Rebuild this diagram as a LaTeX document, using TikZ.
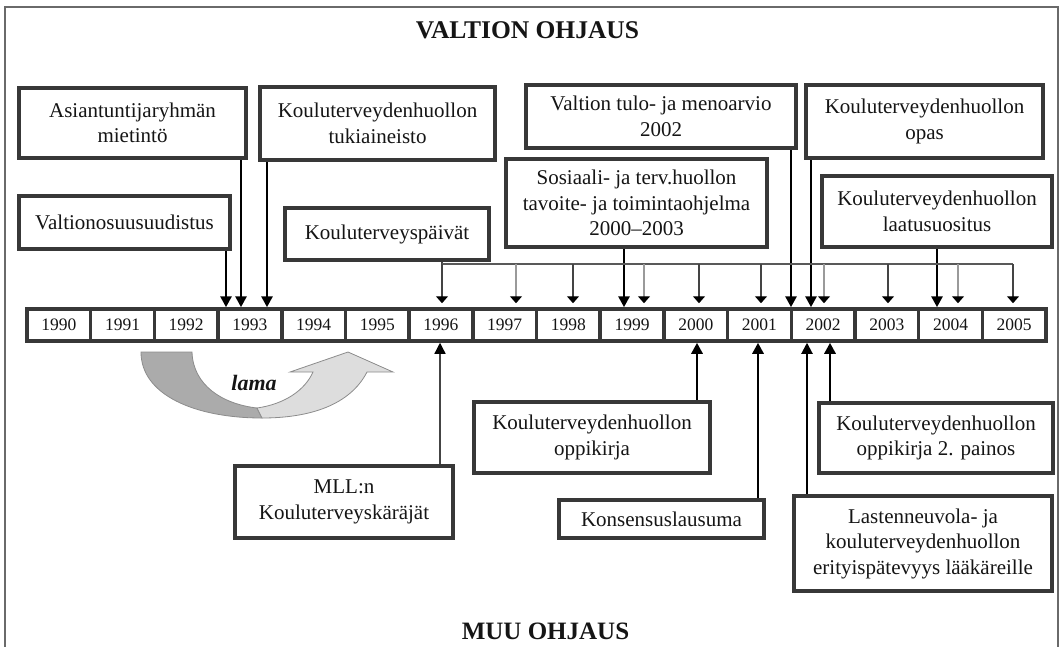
\documentclass[tikz,border=0pt]{standalone}
\usepackage{fontspec}
\setmainfont{Liberation Serif}
\usetikzlibrary{arrows.meta}
\definecolor{bordergray}{HTML}{383838}
\definecolor{framegray}{HTML}{6A6A6A}
\definecolor{lamadark}{HTML}{ABABAB}
\definecolor{lamalight}{HTML}{DDDDDD}
\definecolor{lamaedge}{HTML}{8C8C8C}
\definecolor{thinA}{HTML}{444444}
\definecolor{thinB}{HTML}{9A9A9A}
\definecolor{inkc}{HTML}{151515}
\begin{document}
\begin{tikzpicture}[x=1pt,y=-1pt,
  box/.style={draw=bordergray, line width=4pt, fill=white, inner sep=2pt, align=center,
    text=inkc, font=\fontsize{21}{25.5}\selectfont},
  cell/.style={draw=bordergray, line width=3.5pt, fill=white, minimum width=63.69pt,
    minimum height=32pt, inner sep=0pt, text=inkc, font=\fontsize{17.5}{20}\selectfont},
  thk/.style={line width=2.8pt, -{Triangle[width=11pt,length=11pt]}},
  med/.style={line width=2pt, -{Triangle[width=11pt,length=11pt]}},
  lite/.style={line width=1.3pt, draw=thinA, -{Triangle[width=11pt,length=11pt,color=black]}},
  thnA/.style={line width=1.2pt, draw=thinA, -{Triangle[width=12pt,length=7pt,color=black]}, shorten >=4pt},
  thnB/.style={line width=1.2pt, draw=thinB, -{Triangle[width=12pt,length=7pt,color=black]}, shorten >=4pt},
  title/.style={font=\fontsize{25.5}{30}\selectfont\bfseries, text=inkc, anchor=base}
]
\fill[white] (0,0) rectangle (1064,646);
\useasboundingbox (0,0) rectangle (1064,646);
\draw[framegray, line width=1.5pt] (5,7) rectangle (1058,660);

% titles
\node[title] (ttop) at (527.5,38) {VALTION OHJAUS};
\node[title, font=\fontsize{25}{30}\selectfont\bfseries] (tbot) at (545.5,639) {MUU OHJAUS};

% timeline
\foreach \yr [count=\i from 0] in {1990,1991,1992,1993,1994,1995,1996,1997,1998,1999,2000,2001,2002,2003,2004,2005}
  \node[cell] (y\yr) at ({27+63.69*\i+31.845},325) {\yr};

% upper boxes
\node[box, minimum width=227pt, minimum height=70pt] (asiant) at (132.5,123) {Asiantuntijaryhmän\\mietintö};
\node[box, minimum width=235pt, minimum height=73pt] (tuki) at (377.5,123.5) {Kouluterveydenhuollon\\tukiaineisto};
\node[box, minimum width=211pt, minimum height=53pt] (valtionos) at (124.5,222.5) {Valtionosuusuudistus};
\node[box, minimum width=204pt, minimum height=52pt] (kpaivat) at (387,234) {Kouluterveyspäivät};
\node[box, minimum width=270pt, minimum height=63pt] (tulo) at (661,116.5) {Valtion tulo- ja menoarvio\\2002};
\node[box, minimum width=237pt, minimum height=73pt] (opas) at (924.5,121.5) {Kouluterveydenhuollon\\opas};
\node[box, minimum width=261pt, minimum height=88pt] (sos) at (636.5,203) {Sosiaali- ja terv.huollon\\tavoite- ja toimintaohjelma\\2000–2003};
\node[box, minimum width=230pt, minimum height=71pt] (laatu) at (937,211.5) {Kouluterveydenhuollon\\laatusuositus};

% lower boxes
\node[box, minimum width=218pt, minimum height=72pt] (mll) at (344,502) {MLL:n\\Kouluterveyskäräjät};
\node[box, minimum width=236pt, minimum height=71pt] (oppi) at (592,437.5) {Kouluterveydenhuollon\\oppikirja};
\node[box, minimum width=205pt, minimum height=38pt] (kons) at (661.5,519) {Konsensuslausuma};
\node[box, minimum width=258pt, minimum height=95pt] (last) at (923,543.5) {Lastenneuvola- ja\\kouluterveydenhuollon\\erityispätevyys lääkäreille};
\node[box, minimum width=234pt, minimum height=70pt] (oppi2) at (936,438) {Kouluterveydenhuollon\\oppikirja 2. painos};

% thick arrows from above
\draw[thk] (valtionos.south -| 226,0) -- (y1993.north -| 226,0);
\draw[thk] (asiant.south -| 241,0) -- (y1993.north -| 241,0);
\draw[thk] (tuki.south -| 267,0) -- (y1993.north -| 267,0);
\draw[thk] (sos.south -| 624,0) -- (y1999.north -| 624,0);
\draw[thk] (tulo.south -| 791,0) -- (y2002.north -| 791,0);
\draw[thk] (opas.south -| 811,0) -- (y2002.north -| 811,0);
\draw[thk] (laatu.south -| 937,0) -- (y2004.north -| 937,0);

% annual Kouluterveyspäivät arrows
\coordinate (bus) at (442,264);
\coordinate (busend) at (1013,264);
\draw[thinA, line width=1.2pt] (kpaivat.south -| bus) -- (bus);
\draw[gray!70!black, line width=1.2pt] (bus) -- (busend);
\draw[thnA] (bus) -- (y1996.north -| bus);
\draw[thnB] (bus -| 516,0) -- (y1997.north -| 516,0);
\draw[thnA] (bus -| 573,0) -- (y1998.north -| 573,0);
\draw[thnB] (bus -| 644,0) -- (y1999.north -| 644,0);
\draw[thnA] (bus -| 699,0) -- (y2000.north -| 699,0);
\draw[thnA] (bus -| 761,0) -- (y2001.north -| 761,0);
\draw[thnB] (bus -| 824,0) -- (y2002.north -| 824,0);
\draw[thnA] (bus -| 888,0) -- (y2003.north -| 888,0);
\draw[thnB] (bus -| 958,0) -- (y2004.north -| 958,0);
\draw[thnA] (busend) -- (y2005.north -| busend);

% arrows from below
\draw[lite] (mll.north -| 440,0) -- (y1996.south -| 440,0);
\draw[thk] (oppi.north -| 697,0) -- (y2000.south -| 697,0);
\draw[thk] (kons.north -| 758,0) -- (y2001.south -| 758,0);
\draw[med] (last.north -| 807,0) -- (y2002.south -| 807,0);
\draw[thk] (oppi2.north -| 830,0) -- (y2002.south -| 830,0);

% lama arrow
\draw[lamaedge, line width=0.8pt, fill=lamadark]
  (141,352) -- (192,352) .. controls (193,385) and (222,404) .. (257,408)
  -- (262,418) .. controls (195,418) and (141,395) .. (141,352) -- cycle;
\draw[lamaedge, line width=0.8pt, fill=lamalight]
  (257,408) .. controls (285,404) and (305,390) .. (313,372)
  -- (290,372) -- (348,352) -- (393,372) -- (367,372)
  .. controls (350,405) and (310,418) .. (262,418) -- cycle;
\node[font=\fontsize{22}{26}\selectfont\bfseries\itshape, text=inkc] (lama) at (254,383) {lama};
\end{tikzpicture}
\end{document}
